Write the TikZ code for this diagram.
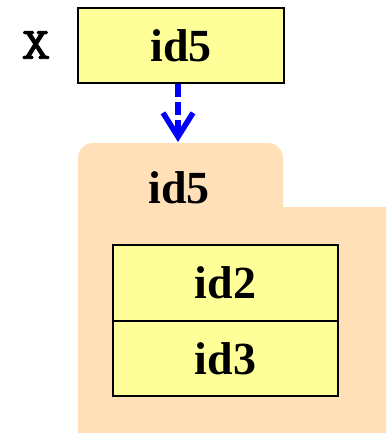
\documentclass[tikz,border=0pt]{standalone}
\usepackage{fontspec}
\setmainfont{Liberation Serif}
\newfontfamily\xmono{Latin Modern Mono}[FakeBold=2]
\usetikzlibrary{arrows.meta}
\definecolor{boxyellow}{HTML}{FFFF99}
\definecolor{folderorange}{HTML}{FFE0B8}
\definecolor{arrowblue}{HTML}{0000FF}
\tikzset{
  valbox/.style={draw=black, line width=2.2pt, fill=boxyellow, minimum width=206pt, minimum height=75pt, inner sep=0pt, font=\fontsize{46}{50}\selectfont\bfseries},
  cellbox/.style={draw=black, line width=2pt, fill=boxyellow, minimum width=225pt, minimum height=75.5pt, inner sep=0pt, font=\fontsize{46}{50}\selectfont\bfseries},
  lbl/.style={inner sep=0pt, font=\fontsize{46}{50}\selectfont\bfseries},
  varlbl/.style={inner sep=0pt, font=\fontsize{45}{50}\selectfont\xmono},
  refarrow/.style={draw=arrowblue, line width=5.5pt, dash pattern=on 13pt off 5pt, -{Straight Barb[length=24pt,width=30pt,line width=5.5pt]}},
}
\begin{document}
\begin{tikzpicture}[x=1pt,y=-1pt]
\useasboundingbox (0,0) rectangle (386,433);
% folder shape
\fill[folderorange] (78,433) -- (78,158) arc[start angle=180,end angle=270,radius=15] -- (268,143) arc[start angle=270,end angle=360,radius=15] -- (283,207) -- (386,207) -- (386,433) -- cycle;
\node[varlbl] (xlab) at (36,45) {\scalebox{1.25}[1]{X}};
\node[valbox] (top) at (181,45.5) {id5};
\node[lbl] (flab) at (179,188) {id5};
\node[cellbox] (c2) at (225.5,283) {id2};
\node[cellbox] (c3) at (225.5,358.5) {id3};
\coordinate (tip) at (178,142);
\draw[refarrow] (top.south -| tip) -- (tip);
\end{tikzpicture}
\end{document}
